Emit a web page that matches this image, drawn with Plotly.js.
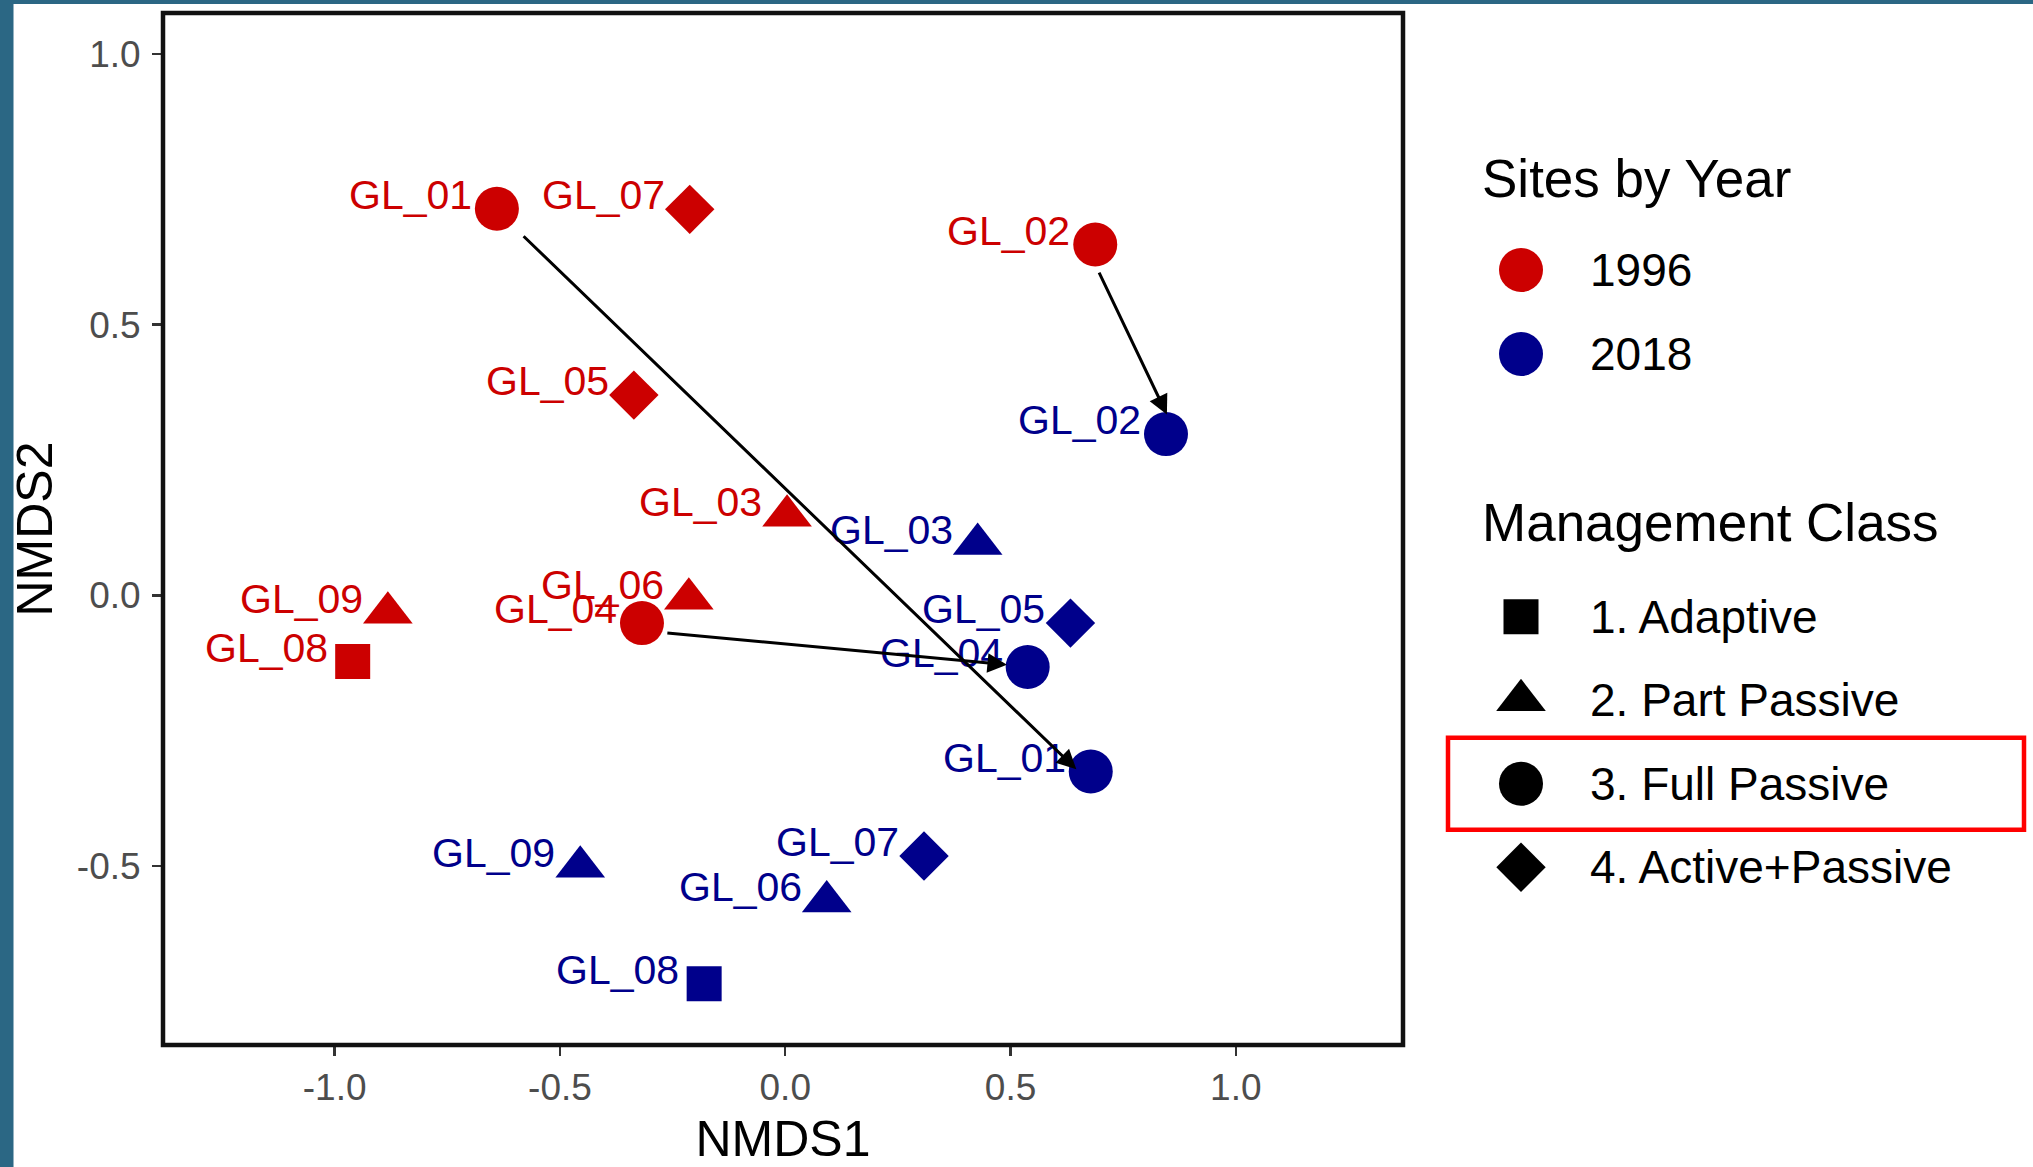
<!DOCTYPE html>
<html><head><meta charset="utf-8">
<script src="https://cdn.plot.ly/plotly-3.0.1.min.js"></script>
<style>html,body{margin:0;padding:0;background:#fff;overflow:hidden}#chart{width:2033px;height:1167px}</style>
</head><body><div id="chart"></div>
<script>
// ---- data ----
const sites = ['GL_01','GL_02','GL_03','GL_04','GL_05','GL_06','GL_07','GL_08','GL_09'];
const siteClass = ['3. Full Passive','3. Full Passive','2. Part Passive','3. Full Passive','4. Active+Passive','2. Part Passive','4. Active+Passive','1. Adaptive','2. Part Passive'];
const nmds1_1996 = [-0.640, 0.688, 0.004, -0.318, -0.336, -0.214, -0.212, -0.960, -0.882];
const nmds2_1996 = [0.714, 0.648, 0.147, -0.051, 0.370, -0.006, 0.713, -0.122, -0.032];
const nmds1_2018 = [0.678, 0.845, 0.427, 0.538, 0.633, 0.092, 0.308, -0.180, -0.455];
const nmds2_2018 = [-0.325, 0.298, 0.095, -0.132, -0.051, -0.565, -0.481, -0.717, -0.501];
const years = ['1996', '2018'];
const classes = ['1. Adaptive', '2. Part Passive', '3. Full Passive', '4. Active+Passive'];
const arrowSites = ['GL_01', 'GL_02', 'GL_04'];
const arrowX0 = [-0.584, 0.695, -0.265];
const arrowY0 = [0.666, 0.599, -0.069];
const arrowX1 = [0.646, 0.847, 0.492];
const arrowY1 = [-0.321, 0.334, -0.128];
const tickVals = [-1, -0.5, 0, 0.5, 1];
const tickText = ['-1.0', '-0.5', '0.0', '0.5', '1.0'];
const highlightedClass = '3. Full Passive';

// ---- styles ----
const W = 2033, H = 1167;
const FONT = 'Liberation Sans, Arial, sans-serif';
const yearColor = {'1996': '#CC0000', '2018': '#00008B'};
const classSymbol = {'1. Adaptive': 'square', '2. Part Passive': 'triangle-up', '3. Full Passive': 'circle', '4. Active+Passive': 'diamond'};
const symbolSize = {'square': 35, 'triangle-up': 43, 'circle': 44, 'diamond': 38};
const px = v => v / W, py = v => 1 - v / H;

const traces = [];
const yearData = {'1996': [nmds1_1996, nmds2_1996], '2018': [nmds1_2018, nmds2_2018]};
years.forEach(yr => {
  const syms = siteClass.map(c => classSymbol[c]);
  traces.push({
    type: 'scatter', mode: 'markers', name: yr,
    x: yearData[yr][0], y: yearData[yr][1], text: sites,
    xaxis: 'x', yaxis: 'y', cliponaxis: false,
    marker: {symbol: syms, size: syms.map(s => symbolSize[s]), color: yearColor[yr], opacity: 1, line: {width: 0}},
    showlegend: false, hoverinfo: 'text+x+y'
  });
});
// custom legend keys drawn on helper axes
traces.push({
  type: 'scatter', mode: 'markers', x: years.map(() => 0), y: years,
  xaxis: 'x2', yaxis: 'y2', showlegend: false, hoverinfo: 'skip', cliponaxis: false,
  marker: {symbol: 'circle', size: 44, opacity: 1, color: years.map(y => yearColor[y]), line: {width: 0}}
});
traces.push({
  type: 'scatter', mode: 'markers', x: classes.map(() => 0), y: classes,
  xaxis: 'x2', yaxis: 'y3', showlegend: false, hoverinfo: 'skip', cliponaxis: false,
  marker: {symbol: classes.map(c => classSymbol[c]), size: classes.map(c => symbolSize[classSymbol[c]]), opacity: 1, color: '#000', line: {width: 0}}
});

const annotations = [];
// point labels
years.forEach(yr => {
  sites.forEach((s, i) => {
    annotations.push({
      x: yearData[yr][0][i], y: yearData[yr][1][i], xref: 'x', yref: 'y',
      text: s, showarrow: false, xanchor: 'right', yanchor: 'middle',
      xshift: -23, yshift: 14,
      font: {family: FONT, size: 41, color: yearColor[yr]}
    });
  });
});
// arrows
arrowSites.forEach((s, i) => {
  annotations.push({
    x: arrowX1[i], y: arrowY1[i], xref: 'x', yref: 'y',
    ax: arrowX0[i], ay: arrowY0[i], axref: 'x', ayref: 'y',
    text: '', showarrow: true, arrowhead: 2, arrowsize: 1.3, arrowwidth: 3, arrowcolor: '#000', standoff: 0
  });
});
// legend titles and labels
annotations.push({xref: 'paper', yref: 'paper', x: px(1480), y: py(178), xanchor: 'left', yanchor: 'middle',
  text: 'Sites by Year', showarrow: false, font: {family: FONT, size: 53, color: '#000'}});
annotations.push({xref: 'paper', yref: 'paper', x: px(1480), y: py(522), xanchor: 'left', yanchor: 'middle',
  text: 'Management Class', showarrow: false, font: {family: FONT, size: 53, color: '#000'}});
years.forEach((yr, i) => annotations.push({xref: 'paper', yref: 'y2', x: px(1588), y: i, xanchor: 'left', yanchor: 'middle',
  text: yr, showarrow: false, font: {family: FONT, size: 46, color: '#000'}}));
classes.forEach((c, i) => annotations.push({xref: 'paper', yref: 'y3', x: px(1588), y: i, xanchor: 'left', yanchor: 'middle',
  text: c, showarrow: false, font: {family: FONT, size: 46, color: '#000'}}));

const hiIdx = classes.indexOf(highlightedClass);
const shapes = [
  // frame strips of the screenshot
  {type: 'rect', xref: 'paper', yref: 'paper', x0: 0, x1: px(13.5), y0: 0, y1: 1, fillcolor: '#2B6784', line: {width: 0}, layer: 'above'},
  {type: 'rect', xref: 'paper', yref: 'paper', x0: 0, x1: 1, y0: py(4), y1: 1, fillcolor: '#2B6784', line: {width: 0}, layer: 'above'},
  // panel border
  {type: 'rect', xref: 'x domain', yref: 'y domain', x0: 0, x1: 1, y0: 0, y1: 1, line: {color: '#111', width: 4.5}, fillcolor: 'rgba(0,0,0,0)', layer: 'above'},
  // red highlight box around the Full Passive legend entry
  {type: 'rect', xref: 'paper', yref: 'y3', x0: px(1448), x1: px(2024), y0: hiIdx - 0.55, y1: hiIdx + 0.55,
   line: {color: '#FF0000', width: 4.5}, fillcolor: 'rgba(0,0,0,0)'}
];

const layout = {
  width: W, height: H,
  margin: {l: 0, r: 0, t: 0, b: 0},
  paper_bgcolor: '#fff', plot_bgcolor: '#fff',
  font: {family: FONT},
  showlegend: false,
  xaxis: {
    domain: [px(163), px(1403)], range: [-1.381, 1.371], anchor: 'y',
    tickvals: tickVals, ticktext: tickText, ticks: 'outside', ticklen: 10, tickwidth: 2.4, tickcolor: '#333',
    tickfont: {family: FONT, size: 37, color: '#4D4D4D'},
    showgrid: false, zeroline: false, showline: false, automargin: false,
    title: {text: 'NMDS1', font: {family: FONT, size: 50, color: '#000'}, standoff: 19}
  },
  yaxis: {
    domain: [1 - 1045 / H, 1 - 13 / H], range: [-0.830, 1.0755], anchor: 'x',
    tickvals: tickVals, ticktext: tickText, ticks: 'outside', ticklen: 10, tickwidth: 2.4, tickcolor: '#333',
    tickfont: {family: FONT, size: 37, color: '#4D4D4D'}, ticklabelstandoff: 4,
    showgrid: false, zeroline: false, showline: false, automargin: false,
    title: {text: 'NMDS2', font: {family: FONT, size: 50, color: '#000'}, standoff: 8}
  },
  xaxis2: {domain: [px(1501), px(1541)], range: [-1, 1], anchor: 'y2', visible: false, fixedrange: true},
  yaxis2: {domain: [py(396), py(228)], type: 'category', categoryarray: years, categoryorder: 'array',
           range: [years.length - 0.5, -0.5], anchor: 'x2', visible: false, fixedrange: true},
  yaxis3: {domain: [py(909), py(575)], type: 'category', categoryarray: classes, categoryorder: 'array',
           range: [classes.length - 0.5, -0.5], anchor: 'x2', visible: false, fixedrange: true},
  annotations: annotations,
  shapes: shapes
};

Plotly.newPlot('chart', traces, layout, {displayModeBar: false, staticPlot: true});
</script>
</body></html>
